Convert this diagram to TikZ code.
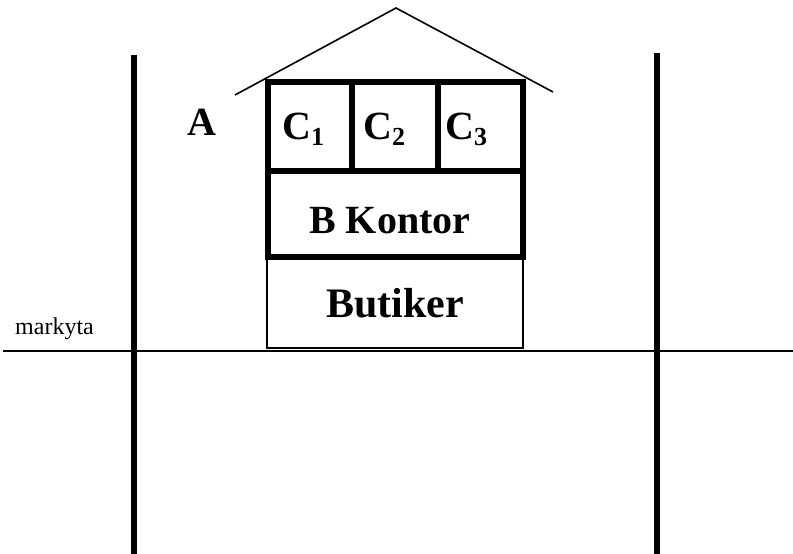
\documentclass[tikz,border=0pt]{standalone}
\usepackage{fontspec}
\setmainfont{Liberation Serif}
\newcommand{\roomsub}[1]{\raisebox{-6pt}{\fontsize{26}{26}\selectfont #1}}
\begin{document}
\begin{tikzpicture}[x=1pt,y=-1pt,
  heavy/.style={line width=6pt},
  pole/.style={line width=5.5pt},
  thin/.style={line width=1.3pt},
  roof/.style={line width=1.6pt, line join=miter},
  big/.style={font=\fontsize{40}{40}\selectfont\bfseries, inner sep=0pt, anchor=base west},
  small/.style={font=\fontsize{24}{24}\selectfont, inner sep=0pt, anchor=base west}]
  \useasboundingbox (0,0) rectangle (793,554);

  % ground line and the two vertical poles
  \coordinate (g1) at (3,351);
  \coordinate (g2) at (793,351);
  \draw[line width=2pt] (g1) -- (g2);
  \coordinate (p1t) at (134,55);
  \coordinate (p1b) at (134,554);
  \coordinate (p2t) at (657,53);
  \coordinate (p2b) at (657,554);
  \draw[pole] (p1t) -- (p1b);
  \draw[pole] (p2t) -- (p2b);

  % roof
  \coordinate (rl) at (235,95);
  \coordinate (ra) at (396,8);
  \coordinate (rr) at (553,92);
  \draw[roof] (rl) -- (ra) -- (rr);

  % shop floor (thin frame)
  \draw[thin] (267,257) rectangle (523,348);

  % office floor and the three top rooms (heavy frame)
  \draw[heavy] (268,82) rectangle (523,257);
  \draw[heavy] (268,171) -- (523,171);
  \draw[heavy] (352,82) -- (352,171);
  \draw[heavy] (438,82) -- (438,171);

  % labels
  \node[small] (mk) at (15,334) {markyta};
  \node[big] (a) at (187,135) {A};
  \node[big] (c1) at (282,139) {C\roomsub{1}};
  \node[big] (c2) at (363,139) {C\roomsub{2}};
  \node[big] (c3) at (445,139) {C\roomsub{3}};
  \node[big] (bk) at (309,233) {B Kontor};
  \node[big, font=\fontsize{42}{42}\selectfont\bfseries] (bu) at (326,317) {Butiker};
\end{tikzpicture}
\end{document}
